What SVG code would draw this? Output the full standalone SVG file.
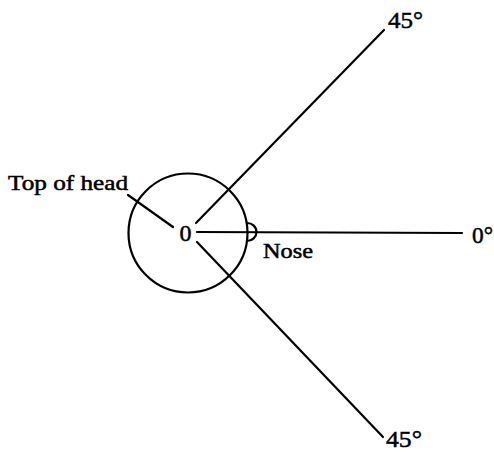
<svg xmlns="http://www.w3.org/2000/svg" width="494" height="455" viewBox="0 0 494 455">
<style>
.ln{stroke:#000;stroke-width:2.2;fill:none;stroke-linecap:round}
.t{font-family:"Liberation Serif","Times New Roman",serif;fill:#000;stroke:#000;stroke-width:0.5}
.w{font-size:21px}
.n{font-size:24px}
</style>
<rect width="494" height="455" fill="#fff"/>
<g id="head">
<circle class="ln" cx="188" cy="233" r="59.5"/>
<text class="t n" x="185.5" y="241" text-anchor="middle">0</text>
</g>
<g id="nose">
<path class="ln" d="M247,223 A9.5,9 0 0 1 247,241"/>
<text class="t w" x="263" y="258" textLength="50" lengthAdjust="spacingAndGlyphs">Nose</text>
</g>
<g id="top-label">
<text class="t w" x="8" y="190" textLength="120" lengthAdjust="spacingAndGlyphs">Top of head</text>
</g>
<g id="label-45-top">
<text class="t n" x="388" y="28" textLength="35" lengthAdjust="spacingAndGlyphs">45°</text>
</g>
<g id="label-0">
<text class="t n" x="472" y="243" textLength="21" lengthAdjust="spacingAndGlyphs">0°</text>
</g>
<g id="label-45-bottom">
<text class="t n" x="386" y="447" textLength="36" lengthAdjust="spacingAndGlyphs">45°</text>
</g>
<g id="connectors">
<line class="ln" x1="196" y1="223" x2="384" y2="30"/>
<line class="ln" x1="197" y1="232" x2="462" y2="233"/>
<line class="ln" x1="197" y1="242" x2="383" y2="437"/>
<line class="ln" x1="128" y1="195" x2="173" y2="227"/>
</g>
</svg>
